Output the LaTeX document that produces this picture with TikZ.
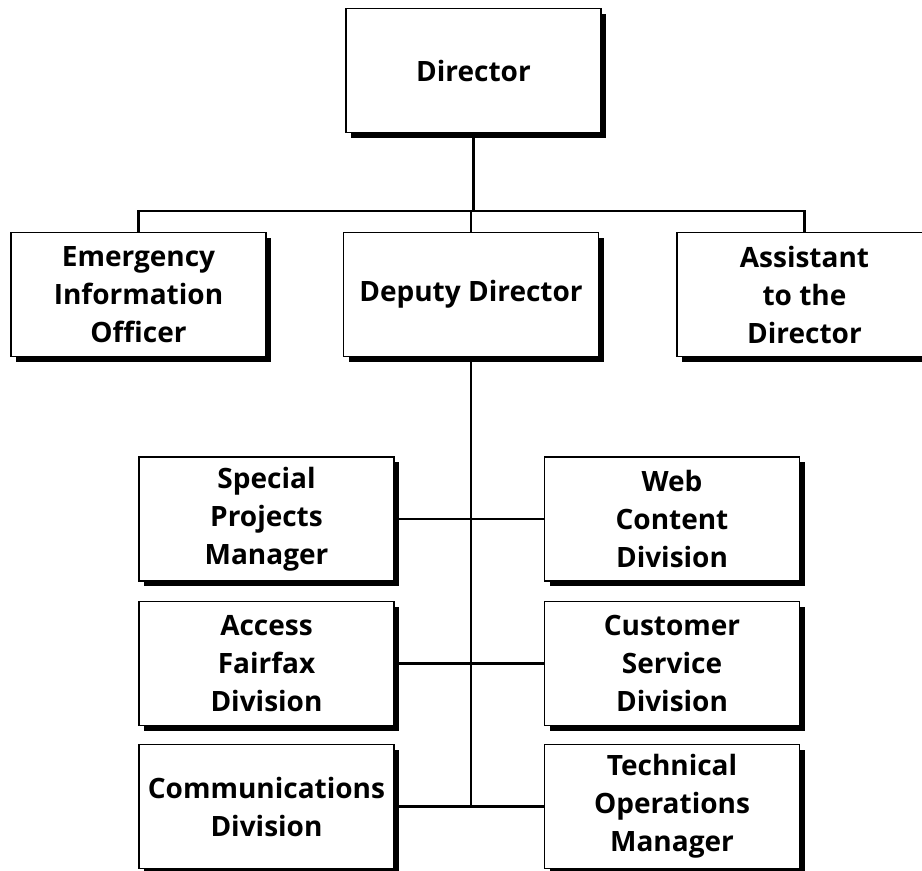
\documentclass[tikz,border=0pt]{standalone}
\usepackage{fontspec}
\setmainfont{Open Sans}
\usetikzlibrary{shadows}

\tikzset{
  orgbox/.style={draw, line width=1.4pt, fill=white, minimum width=255pt, minimum height=124pt,
    align=center, inner sep=2pt, font=\fontsize{28}{38}\selectfont\bfseries,
    drop shadow={shadow xshift=5pt, shadow yshift=-5pt, fill=black, opacity=1}},
  link/.style={line width=2.2pt}
}

\begin{document}
\begin{tikzpicture}[x=1pt,y=-1pt]
    \useasboundingbox (0,0) rectangle (922,871);
    % top level
    \node[orgbox] (director) at (473.5,70.5) {Director};
    \node[orgbox] (emerg) at (138.5,294.5) {Emergency\\Information\\Officer};
    \node[orgbox] (deputy) at (471,294.5) {Deputy Director};
    \node[orgbox] (assist) at (804.5,294.5) {Assistant\\to the\\Director};
    % divisions
    \node[orgbox] (special) at (266.5,519) {Special\\Projects\\Manager};
    \node[orgbox] (web) at (672,519) {Web\\Content\\Division};
    \node[orgbox] (access) at (266.5,663.5) {Access\\Fairfax\\Division};
    \node[orgbox] (customer) at (672,663.5) {Customer\\Service\\Division};
    \node[orgbox] (comm) at (266.5,806.5) {Communications\\Division};
    \node[orgbox] (tech) at (672,806.5) {Technical\\Operations\\Manager};
    % connectors
    \draw[link] (director.south) -- ++(0,78) coordinate (top);
    \draw[link] (emerg.north) |- (top) -| (assist.north);
    \draw[link] (top) -| (deputy.north);
    \draw[link] (deputy.south) -- (deputy.south |- comm.east) coordinate (spineend);
    \draw[link] (special.east) -- (web.west);
    \draw[link] (access.east) -- (customer.west);
    \draw[link] (comm.east) -- (tech.west);
\end{tikzpicture}
\end{document}
